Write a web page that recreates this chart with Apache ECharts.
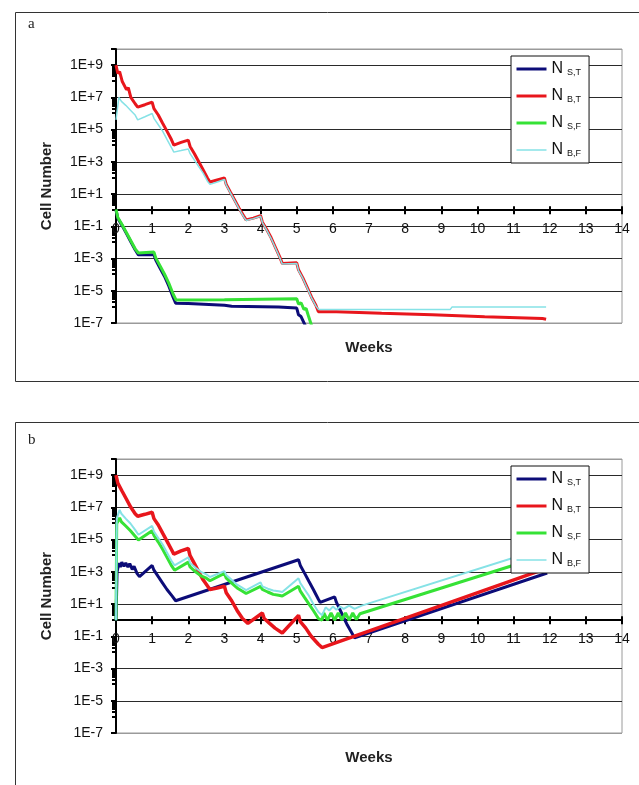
<!DOCTYPE html>
<html><head><meta charset="utf-8">
<script src="https://cdn.jsdelivr.net/npm/echarts@6/dist/echarts.min.js"></script>
<style>html,body{margin:0;padding:0;background:#fff}#c{width:639px;height:785px}</style>
</head><body><div id="c"></div>
<script>
// ---- data: [week, cell number] ----
const X_TICKS = [0,1,2,3,4,5,6,7,8,9,10,11,12,13,14];
const SERIES_NAMES = ['N S,T','N B,T','N S,F','N B,F'];
const COLORS = ['#0c0c78','#e8161c','#36e236','#86e2e6'];

const NAVY_A = [[0,1],[0.05,0.32],[0.10,0.35],[0.17,0.11],[0.22,0.126],[0.29,0.035],[0.34,0.04],[0.41,0.011],[0.46,0.0126],[0.53,3.5e-3],[0.62,1.7e-3],[1.05,1.7e-3],[1.10,8e-4],[1.15,9e-4],[1.22,2.5e-4],[1.27,2.8e-4],[1.34,8e-5],[1.39,9e-5],[1.46,2e-5],[1.51,2.2e-5],[1.58,4e-6],[1.65,1.7e-6],[2.00,1.6e-6],[3.00,1.26e-6],[3.20,1.1e-6],[4.50,1e-6],[5.00,8.5e-7],[5.05,3.2e-7],[5.12,2.5e-7],[5.25,6e-8]];
const RED_A = [[0,1e9],[0.05,3e8],[0.10,4e8],[0.17,1e8],[0.22,1.3e8],[0.29,3e7],[0.34,4e7],[0.41,1e7],[0.46,1.3e7],[0.53,4e6],[0.60,2.5e6],[0.80,3.5e6],[1.00,5e6],[1.05,2e6],[1.10,2.5e6],[1.17,8e5],[1.22,1e6],[1.29,2.5e5],[1.34,3.2e5],[1.41,8e4],[1.46,1e5],[1.53,2.5e4],[1.60,1.1e4],[1.80,1.6e4],[2.00,2.2e4],[2.05,9e3],[2.10,1.1e4],[2.17,3.2e3],[2.22,4e3],[2.29,1e3],[2.34,1.3e3],[2.41,320],[2.46,400],[2.53,100],[2.60,56],[2.80,75],[3.00,100],[3.05,40],[3.10,50],[3.17,12.6],[3.22,16],[3.29,4],[3.34,5],[3.41,1.26],[3.46,1.6],[3.53,0.45],[3.60,0.25],[3.80,0.32],[4.00,0.45],[4.05,0.18],[4.10,0.22],[4.17,0.063],[4.22,0.079],[4.29,0.02],[4.34,0.025],[4.41,5e-3],[4.46,6.3e-3],[4.53,1.26e-3],[4.60,5e-4],[5.00,5.4e-4],[5.05,2e-4],[5.10,2.5e-4],[5.17,6.3e-5],[5.22,7.9e-5],[5.29,1.6e-5],[5.34,2e-5],[5.41,4e-6],[5.46,5e-6],[5.53,1.26e-6],[5.60,5e-7],[6.10,5e-7],[6.15,4.2e-7],[7.35,4e-7],[7.40,3.2e-7],[8.75,3.2e-7],[8.80,2.5e-7],[10.20,2.4e-7],[10.25,2e-7],[11.80,1.9e-7],[11.90,1.7e-7]];
const GREEN_A = [[0,1.12],[0.05,0.35],[0.10,0.4],[0.17,0.126],[0.22,0.14],[0.29,0.04],[0.34,0.045],[0.41,0.0126],[0.46,0.014],[0.53,4e-3],[0.62,2.2e-3],[1.05,2.5e-3],[1.10,1.1e-3],[1.15,1.26e-3],[1.22,3.5e-4],[1.27,4e-4],[1.34,1.1e-4],[1.39,1.26e-4],[1.46,3e-5],[1.51,3.5e-5],[1.58,6.3e-6],[1.66,2.7e-6],[3.00,2.8e-6],[5.00,3.2e-6],[5.05,1.5e-6],[5.12,1.8e-6],[5.20,7e-7],[5.26,8e-7],[5.33,2.5e-7],[5.42,6e-8]];
const CYAN_A = [[0,4e5],[0.08,1e7],[0.10,1e7],[0.15,5.6e6],[0.20,7e6],[0.27,3.2e6],[0.32,4e6],[0.40,1.6e6],[0.45,2e6],[0.53,8e5],[0.60,4e5],[0.80,6.3e5],[1.00,1e6],[1.05,5e5],[1.10,6.3e5],[1.17,2e5],[1.22,2.5e5],[1.29,8e4],[1.34,1e5],[1.41,2.5e4],[1.46,3.2e4],[1.53,8e3],[1.60,4e3],[1.80,5e3],[2.00,6.3e3],[2.05,3.2e3],[2.10,4e3],[2.17,1.26e3],[2.22,1.6e3],[2.29,500],[2.34,630],[2.41,200],[2.46,250],[2.53,63],[2.60,40],[2.80,56],[3.00,80],[3.05,36],[3.10,45],[3.17,11.5],[3.22,14.5],[3.29,3.6],[3.34,4.5],[3.41,1.15],[3.46,1.45],[3.53,0.4],[3.60,0.23],[3.80,0.3],[4.00,0.42],[4.05,0.17],[4.10,0.2],[4.17,0.058],[4.22,0.072],[4.29,0.018],[4.34,0.023],[4.41,4.6e-3],[4.46,5.8e-3],[4.53,1.15e-3],[4.60,4.6e-4],[5.00,5e-4],[5.05,1.8e-4],[5.10,2.3e-4],[5.17,5.8e-5],[5.22,7.2e-5],[5.29,1.45e-5],[5.34,1.8e-5],[5.41,3.6e-6],[5.46,4.6e-6],[5.53,1.15e-6],[5.60,7e-7],[9.25,7e-7],[9.30,1e-6],[11.90,1e-6]];

const NAVY_B = [[0,1],[0.03,1e3],[0.08,3.5e3],[0.12,2e3],[0.16,4e3],[0.22,2.2e3],[0.27,3.5e3],[0.33,2e3],[0.38,3.2e3],[0.45,1.4e3],[0.50,2.2e3],[0.58,800],[0.65,500],[1.00,2.5e3],[1.05,1.26e3],[1.10,1.6e3],[1.17,500],[1.22,630],[1.29,200],[1.34,250],[1.41,80],[1.46,100],[1.55,32],[1.65,16],[5.05,5.6e3],[5.10,2.5e3],[5.15,3.2e3],[5.22,800],[5.27,1e3],[5.34,250],[5.39,320],[5.46,80],[5.51,100],[5.60,20],[5.65,12.6],[6.05,28],[6.10,12.6],[6.15,16],[6.25,2.5],[6.30,3.2],[6.40,0.5],[6.45,0.63],[6.60,0.08],[11.93,850]];
const RED_B = [[0,1e9],[0.05,3.2e8],[0.10,4e8],[0.17,1e8],[0.22,1.26e8],[0.29,3.2e7],[0.34,4e7],[0.41,1e7],[0.46,1.26e7],[0.53,4e6],[0.60,2.8e6],[0.80,3.7e6],[1.00,5e6],[1.05,2e6],[1.10,2.5e6],[1.17,8e5],[1.22,1e6],[1.29,2.5e5],[1.34,3.2e5],[1.41,8e4],[1.46,1e5],[1.53,2.5e4],[1.60,1.26e4],[1.80,2e4],[2.00,2.8e4],[2.05,1e4],[2.10,1.26e4],[2.17,3.2e3],[2.22,4e3],[2.29,1e3],[2.34,1.26e3],[2.41,320],[2.46,400],[2.60,80],[2.80,100],[3.00,126],[3.05,50],[3.10,63],[3.20,16],[3.25,20],[3.35,4],[3.40,5],[3.50,1.26],[3.55,1.6],[3.65,0.63],[4.05,2.8],[4.10,1.26],[4.15,1.6],[4.25,0.63],[4.30,0.8],[4.40,0.32],[4.45,0.4],[4.60,0.16],[5.05,2],[5.10,0.8],[5.15,1],[5.25,0.32],[5.30,0.4],[5.40,0.1],[5.45,0.126],[5.60,0.032],[5.70,0.02],[11.93,1.7e3]];
const GREEN_B = [[0,1],[0.02,1e6],[0.10,2.2e6],[0.15,1.26e6],[0.20,1.6e6],[0.27,7e5],[0.32,9e5],[0.40,3.5e5],[0.45,4.5e5],[0.53,1.6e5],[0.62,9.3e4],[1.00,3.5e5],[1.05,1.8e5],[1.10,2.2e5],[1.17,7e4],[1.22,9e4],[1.29,2.5e4],[1.34,3.2e4],[1.41,8e3],[1.46,1e4],[1.53,2.5e3],[1.62,1.26e3],[2.00,4e3],[2.05,2e3],[2.10,2.5e3],[2.20,1e3],[2.25,1.26e3],[2.35,560],[2.40,700],[2.50,400],[2.60,280],[3.00,800],[3.05,400],[3.10,500],[3.20,200],[3.25,250],[3.35,100],[3.40,126],[3.50,63],[3.60,45],[4.00,126],[4.05,80],[4.10,100],[4.20,56],[4.25,70],[4.35,40],[4.40,50],[4.50,35],[4.60,32],[5.05,126],[5.10,63],[5.15,80],[5.22,25],[5.27,32],[5.34,10],[5.39,12.6],[5.46,4],[5.51,5],[5.60,1.26],[5.70,1],[5.75,2.8],[5.85,1],[5.95,2.8],[6.05,1],[6.15,2.8],[6.25,1],[6.35,2.8],[6.45,1],[6.55,2.8],[6.65,1.1],[6.75,2.5],[11.90,1.1e4]];
const CYAN_B = [[0,1],[0.02,2e6],[0.10,7e6],[0.15,4e6],[0.20,5e6],[0.27,2e6],[0.32,2.5e6],[0.40,1e6],[0.45,1.26e6],[0.53,4e5],[0.62,2e5],[1.00,7e5],[1.05,3.2e5],[1.10,4e5],[1.17,1.26e5],[1.22,1.6e5],[1.29,5e4],[1.34,6.3e4],[1.41,1.6e4],[1.46,2e4],[1.53,5e3],[1.62,2.5e3],[2.00,8e3],[2.05,3.5e3],[2.10,4.5e3],[2.20,1.8e3],[2.25,2.2e3],[2.35,1e3],[2.40,1.26e3],[2.50,700],[2.60,480],[3.00,1.1e3],[3.05,630],[3.10,800],[3.20,320],[3.25,400],[3.35,160],[3.40,200],[3.50,100],[3.60,74],[4.00,220],[4.05,126],[4.10,160],[4.20,90],[4.25,110],[4.35,70],[4.40,90],[4.50,63],[4.60,56],[5.05,400],[5.10,200],[5.15,250],[5.22,80],[5.27,100],[5.34,32],[5.39,40],[5.46,10],[5.51,12.6],[5.60,3.2],[5.70,2],[5.80,6.3],[5.90,4],[6.00,7],[6.10,4.5],[6.20,7],[6.30,5],[6.45,8],[6.60,5],[6.80,8],[11.90,3.2e4]];

const Y_MIN = 1e-7, Y_MAX = 1e10;
// --------------------------------------

const FONT = 'Liberation Sans, Arial, sans-serif';
const chart = echarts.init(document.getElementById('c'), null, {renderer: 'canvas'});

function yLabel(v) {
  const e = Math.round(Math.log10(v));
  if (e > 9) return '';
  return '1E' + (e >= 0 ? '+' : '-') + Math.abs(e);
}
const splitColors = ['#9a9a9a','#2a2a2a','#2a2a2a','#2a2a2a','#2a2a2a','#2a2a2a','#2a2a2a','#2a2a2a','#2a2a2a','#9a9a9a'];

const grids = [
  {left: 116, top: 49, width: 506, height: 274},
  {left: 116, top: 459, width: 506, height: 274}
].map(g => Object.assign({show: true, borderColor: '#9a9a9a', borderWidth: 1, backgroundColor: 'transparent'}, g));

const xAxes = [];
const yAxes = [];
[0, 1].forEach(i => {
  xAxes.push({
    gridIndex: i, type: 'value', min: 0, max: 14, interval: 1, position: 'bottom', offset: 0,
    axisLine: {onZero: false, lineStyle: {color: '#000', width: 2}},
    axisTick: {show: true, length: 4, lineStyle: {color: '#000', width: 2}},
    axisLabel: {margin: 12, fontSize: 14, color: '#111', fontFamily: FONT,
      customValues: X_TICKS},
    splitLine: {show: false}
  });
  xAxes.push({
    gridIndex: i, type: 'value', min: 0, max: 14, interval: 1, position: 'bottom', offset: 0,
    axisLine: {show: false, onZero: false},
    axisTick: {show: true, inside: true, length: 4, lineStyle: {color: '#000', width: 2}},
    axisLabel: {show: false}, splitLine: {show: false}
  });
  xAxes.push({
    gridIndex: i, type: 'value', min: 0, max: 14, position: 'bottom', offset: 0,
    name: 'Weeks', nameLocation: 'middle', nameGap: 17,
    nameTextStyle: {fontFamily: FONT, fontSize: 15, fontWeight: 'bold', color: '#222'},
    axisLine: {show: false, onZero: false}, axisTick: {show: false},
    axisLabel: {show: false}, splitLine: {show: false}
  });
  yAxes.push({
    gridIndex: i, type: 'log', logBase: 10, min: Y_MIN, max: Y_MAX, interval: 2,
    name: 'Cell Number', nameLocation: 'middle', nameGap: 62,
    nameTextStyle: {fontFamily: FONT, fontSize: 15, fontWeight: 'bold', color: '#222'},
    axisLine: {show: true, onZero: false, lineStyle: {color: '#000', width: 2}},
    axisTick: {show: true, length: 5, lineStyle: {color: '#000', width: 2}},
    minorTick: {show: true, splitNumber: 10, length: 4, lineStyle: {color: '#000', width: 2}},
    axisLabel: {margin: 13, fontSize: 14, color: '#111', fontFamily: FONT, formatter: yLabel},
    splitLine: {show: true, lineStyle: {color: splitColors, width: 1.2}},
    minorSplitLine: {show: false}
  });
});

function mk(name, data, idx, panel, width) {
  return {
    name: name, type: 'line', data: data, xAxisIndex: panel * 3, yAxisIndex: panel,
    symbol: 'none', showSymbol: false, clip: true, z: 2 + idx * 0.1,
    lineStyle: {color: COLORS[idx], width: width}, itemStyle: {color: COLORS[idx]}
  };
}

const series = [
  mk(SERIES_NAMES[0], NAVY_A, 0, 0, 3),
  mk(SERIES_NAMES[1], RED_A, 1, 0, 3),
  mk(SERIES_NAMES[2], GREEN_A, 2, 0, 3),
  mk(SERIES_NAMES[3], CYAN_A, 3, 0, 1.5),
  mk(SERIES_NAMES[0], NAVY_B, 0, 1, 3),
  mk(SERIES_NAMES[1], RED_B, 1, 1, 3.5),
  mk(SERIES_NAMES[2], GREEN_B, 2, 1, 3),
  mk(SERIES_NAMES[3], CYAN_B, 3, 1, 2)
];

const LEGEND_LINE_W = [3, 3, 3, 1.5];
function legendAt(top) {
  return {
    orient: 'vertical', left: 511, top: top, selectedMode: false,
    data: SERIES_NAMES.map((n, k) => ({name: n, lineStyle: {width: LEGEND_LINE_W[k], color: COLORS[k]}})),
    itemWidth: 30, itemHeight: 14, itemGap: 11,
    padding: [5, 8, 5, 4], borderColor: '#111', borderWidth: 1, backgroundColor: '#fff',
    itemStyle: {opacity: 0},
    formatter: name => '{n|N}{s|' + name.slice(2) + '}',
    textStyle: {
      color: '#111',
      rich: {
        n: {fontSize: 16, fontFamily: FONT, color: '#111', verticalAlign: 'bottom', lineHeight: 16},
        s: {fontSize: 9, fontFamily: FONT, color: '#111', verticalAlign: 'bottom', padding: [0, 0, 0, 4], lineHeight: 16}
      }
    }
  };
}

const option = {
  animation: false,
  backgroundColor: '#fff',
  graphic: [
    {type: 'rect', left: 13, top: 10, shape: {x: 0.5, y: 0.5, width: 624, height: 369}, style: {fill: 'none', stroke: '#333', lineWidth: 1}, silent: true, z: -1},
    {type: 'rect', left: 13, top: 420, shape: {x: 0.5, y: 0.5, width: 624, height: 380}, style: {fill: 'none', stroke: '#333', lineWidth: 1}, silent: true, z: -1},
    {type: 'text', left: 28, top: 17, style: {text: 'a', font: '15px "Liberation Serif", serif', fill: '#222'}},
    {type: 'text', left: 28, top: 433, style: {text: 'b', font: '15px "Liberation Serif", serif', fill: '#222'}}
  ],
  grid: grids,
  xAxis: xAxes,
  yAxis: yAxes,
  legend: [legendAt(56), legendAt(466)],
  series: series
};
chart.setOption(option);

// place the week axis where the y-axis value is 1, using the y scale
const offs = [0, 1].map(i => {
  const y1 = chart.convertToPixel({yAxisIndex: i}, 1);
  const yb = chart.convertToPixel({yAxisIndex: i}, Y_MIN);
  return y1 - yb;
});
chart.setOption({
  xAxis: [
    {offset: offs[0]}, {offset: offs[0]}, {},
    {offset: offs[1]}, {offset: offs[1]}, {}
  ]
});
</script>
</body></html>
